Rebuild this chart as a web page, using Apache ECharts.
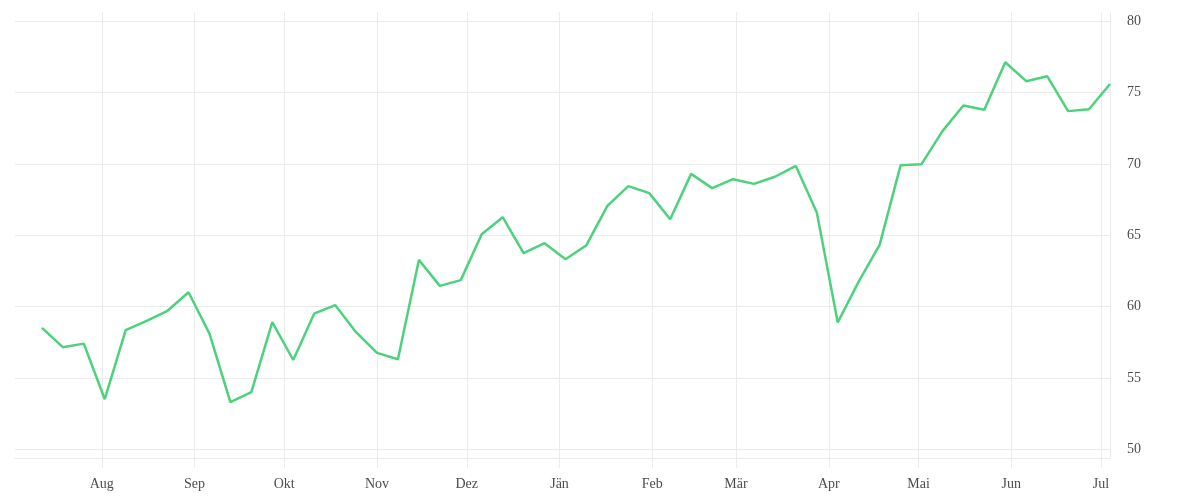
<!DOCTYPE html>
<html>
<head>
<meta charset="utf-8">
<script src="https://cdn.jsdelivr.net/npm/echarts@6/dist/echarts.min.js"></script>
<style>html,body{margin:0;padding:0;background:#fff;}#c{width:1200px;height:500px;}</style>
</head>
<body>
<div id="c"></div>
<script>
// Weekly dates (first point) and values
const startDate = '2022-07-12';
const lastDate = '2023-07-04';
const values = [
  58.5, 57.15, 57.4, 53.5, 58.35, 59.0, 59.7, 61.0, 58.1, 53.3,
  54.0, 58.9, 56.25, 59.5, 60.1, 58.2, 56.75, 56.3, 63.27, 61.45,
  61.85, 65.07, 66.26, 63.74, 64.44, 63.32, 64.3, 67.06, 68.44, 67.95,
  66.12, 69.3, 68.3, 68.93, 68.6, 69.1, 69.86, 66.6, 58.88, 61.75,
  64.32, 69.9, 69.98, 72.3, 74.1, 73.8, 77.13, 75.8, 76.15, 73.7,
  73.83, 75.6
];
const monthDates = ['2022-08-01','2022-09-01','2022-10-01','2022-11-01','2022-12-01','2023-01-01',
  '2023-02-01','2023-03-01','2023-04-01','2023-05-01','2023-06-01','2023-07-01'];
const monthLabels = ['Aug','Sep','Okt','Nov','Dez','Jän','Feb','Mär','Apr','Mai','Jun','Jul'];
const yTicks = [50, 55, 60, 65, 70, 75, 80];

function parseDay(s){ const p = s.split('-').map(Number); return Date.UTC(p[0], p[1]-1, p[2]); }
const DAY = 86400000;
const t0 = parseDay(startDate);
const data = values.map((v, i) => {
  const t = (i === values.length - 1) ? parseDay(lastDate) : t0 + i * 7 * DAY;
  return [t, v];
});
const monthTs = monthDates.map(parseDay);
const labelMap = {};
monthTs.forEach((t, i) => { labelMap[t] = monthLabels[i]; });

const gridColor = '#ebebeb';
const textColor = '#4d4d4d';
const font = 'Liberation Serif';

const chart = echarts.init(document.getElementById('c'));
chart.setOption({
  animation: false,
  backgroundColor: '#fff',
  grid: { left: 15, right: 90, top: 12, bottom: 42, containLabel: false },
  xAxis: {
    type: 'value',
    min: parseDay('2022-07-03'),
    max: 'dataMax',
    axisLine: { show: true, lineStyle: { color: gridColor, width: 1 } },
    axisTick: { show: true, length: 10, lineStyle: { color: gridColor }, customValues: monthTs },
    axisLabel: {
      customValues: monthTs,
      formatter: function (val) { return labelMap[val] || ''; },
      color: textColor, fontFamily: font, fontSize: 14, margin: 19,
      hideOverlap: false
    },
    splitLine: { show: true, lineStyle: { color: gridColor, width: 1 } }
  },
  yAxis: {
    type: 'value',
    position: 'right',
    min: 49.38,
    max: 80.65,
    axisLine: { show: true, lineStyle: { color: gridColor, width: 1 } },
    axisTick: { show: false, customValues: yTicks },
    axisLabel: {
      customValues: yTicks,
      color: textColor, fontFamily: font, fontSize: 14, margin: 17,
      padding: [3, 0, 0, 0]
    },
    splitLine: { show: true, lineStyle: { color: gridColor, width: 1 } }
  },
  series: [{
    type: 'line',
    data: data,
    showSymbol: false,
    symbol: 'none',
    lineStyle: { color: '#4cd27c', width: 2.5 },
    itemStyle: { color: '#4cd27c' }
  }]
});
</script>
</body>
</html>
